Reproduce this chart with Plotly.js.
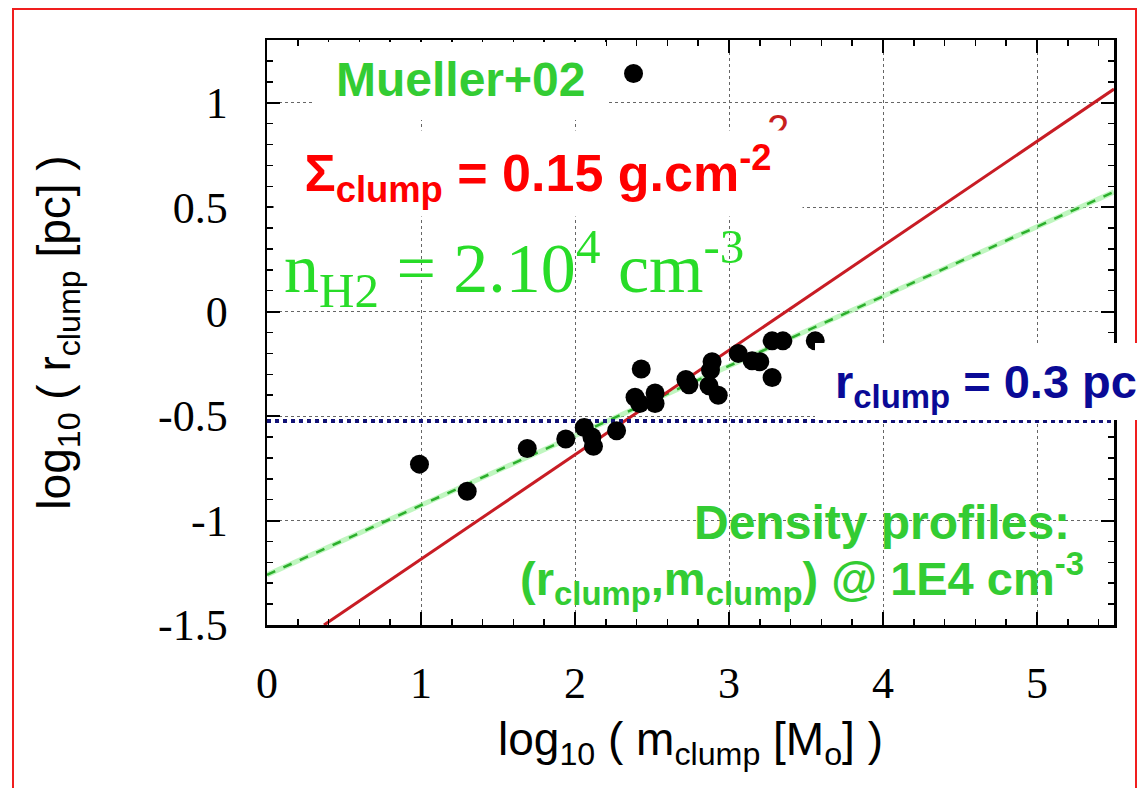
<!DOCTYPE html>
<html>
<head>
<meta charset="utf-8">
<script src="https://cdn.plot.ly/plotly-3.0.1.min.js"></script>
<style>
html,body{margin:0;padding:0;background:#fff;}
#chart{width:1142px;height:788px;}
</style>
</head>
<body>
<div id="chart"></div>
<script>
// Clump data: log10(m_clump [Msun]) vs log10(r_clump [pc])
const logMass = [0.99, 1.30, 1.69, 1.94, 2.06, 2.11, 2.12, 2.27, 2.38, 2.39, 2.42, 2.43, 2.52, 2.52, 2.72, 2.74, 2.87, 2.89, 2.88, 2.93, 3.06, 3.15, 3.20, 3.28, 3.28, 3.35, 3.56];
const logRadius = [-0.73, -0.86, -0.655, -0.61, -0.555, -0.60, -0.645, -0.57, 1.14, -0.41, -0.44, -0.275, -0.39, -0.44, -0.325, -0.35, -0.355, -0.24, -0.28, -0.40, -0.20, -0.235, -0.24, -0.315, -0.14, -0.14, -0.14];

// Constant surface density line (Sigma = 0.15 g cm^-2)
const sigmaLineX = [0.37, 5.5];
const sigmaLineY = [-1.5, 1.065];
// Constant density line (n_H2 = 2e4 cm^-3)
const densLineX = [0, 5.5];
const densLineY = [-1.26, 0.573];
// r_clump = 0.3 pc
const rLineX = [0, 5.5];
const rLineY = [-0.523, -0.523];

const xTickVals = [0, 1, 2, 3, 4, 5];
const xTickText = ['0', '1', '2', '3', '4', '5'];
const yTickVals = [-1.5, -1, -0.5, 0, 0.5, 1];
const yTickText = ['-1.5', '-1', '-0.5', '0', '0.5', '1'];

const traces = [
  {x: densLineX, y: densLineY, mode: 'lines', line: {color: 'rgba(150,240,150,0.6)', width: 5}, hoverinfo: 'skip', showlegend: false},
  {x: densLineX, y: densLineY, mode: 'lines', line: {color: 'rgb(45,175,45)', width: 2.5, dash: 'dash'}, showlegend: false},
  {x: sigmaLineX, y: sigmaLineY, mode: 'lines', line: {color: 'rgb(200,28,36)', width: 3}, showlegend: false},
  {x: rLineX, y: rLineY, mode: 'lines', line: {color: 'rgb(20,20,120)', width: 4, dash: 'dot'}, showlegend: false},
  {x: logMass, y: logRadius, mode: 'markers', marker: {color: '#000', size: 19}, showlegend: false}
];

// pixel -> paper helpers for decoration boxes
const L = 267, R = 1114, T = 40, B = 625;
const px = v => (v - L) / (R - L);
const py = v => (B - v) / (B - T);

const green = 'rgb(51,204,51)';
const sans = 'Liberation Sans, Arial, sans-serif';
const serif = 'Liberation Serif, Times New Roman, serif';
const layout = {
  width: 1142, height: 788,
  margin: {l: L, r: 1142 - R, t: T, b: 788 - B},
  paper_bgcolor: '#fff', plot_bgcolor: '#fff',
  font: {family: serif, color: '#000'},
  xaxis: {
    range: [0, 5.5], tickvals: xTickVals, ticktext: xTickText,
    ticks: 'inside', ticklen: 13, tickwidth: 2, tickcolor: '#000',
    minor: {dtick: 0.2, tick0: 0, ticks: 'inside', ticklen: 6, tickwidth: 1.5, tickcolor: '#000', showgrid: false},
    showline: true, linecolor: '#000', linewidth: 2.5, mirror: 'ticks',
    showgrid: true, gridcolor: '#666', griddash: 'dot', gridwidth: 1,
    zeroline: false, ticklabelstandoff: 18,
    tickfont: {family: serif, size: 44, color: '#000'},
    title: {text: 'log<sub>10</sub> ( m<sub>clump</sub> [M<sub>o</sub>] )', standoff: 16,
            font: {family: sans, size: 46, color: '#000'}}
  },
  yaxis: {
    range: [-1.5, 1.3], tickvals: yTickVals, ticktext: yTickText,
    ticks: 'inside', ticklen: 13, tickwidth: 2, tickcolor: '#000',
    minor: {dtick: 0.1, tick0: 0, ticks: 'inside', ticklen: 6, tickwidth: 1.5, tickcolor: '#000', showgrid: false},
    showline: true, linecolor: '#000', linewidth: 2.5, mirror: 'ticks',
    showgrid: true, gridcolor: '#666', griddash: 'dot', gridwidth: 1,
    zeroline: false, ticklabelstandoff: 28,
    tickfont: {family: serif, size: 44, color: '#000'},
    title: {text: 'log<sub>10</sub> ( r<sub>clump</sub> [pc] )', standoff: 73,
            font: {family: sans, size: 46, color: '#000'}}
  },
  shapes: [
    {type: 'rect', xref: 'paper', yref: 'paper', x0: px(13), x1: px(1136), y0: py(800), y1: py(9),
     line: {color: 'rgb(240,30,30)', width: 2}, fillcolor: 'rgba(0,0,0,0)', layer: 'above'},
    {type: 'rect', xref: 'paper', yref: 'paper', x0: px(315), x1: px(606), y0: py(120), y1: py(42),
     line: {width: 0}, fillcolor: '#fff', layer: 'above'},
    {type: 'rect', xref: 'paper', yref: 'paper', x0: px(815), x1: px(1142), y0: py(420), y1: py(343),
     line: {width: 0}, fillcolor: '#fff', layer: 'above'}
  ],
  annotations: [
    {xref: 'paper', yref: 'paper', x: px(778), y: py(129), xanchor: 'center', yanchor: 'middle', showarrow: false,
     text: '2', font: {family: sans, size: 40, color: 'rgb(200,30,30)'}},
    {xref: 'paper', yref: 'paper', x: px(273), y: py(130), xanchor: 'left', yanchor: 'top', showarrow: false,
     width: 528, height: 85, align: 'center', valign: 'middle', borderpad: 0,
     text: '<b>Σ<sub>clump</sub> = 0.15 g.cm<sup>-2</sup></b>', bgcolor: '#fff',
     font: {family: sans, size: 52, color: '#ff0000'}},
    {xref: 'paper', yref: 'paper', x: px(460), y: py(80), xanchor: 'center', yanchor: 'middle', showarrow: false,
     text: '<b>Mueller+02</b>',
     font: {family: sans, size: 48, color: green}},
    {xref: 'paper', yref: 'paper', x: px(282), y: py(268), xanchor: 'left', yanchor: 'middle', showarrow: false,
     text: 'n<sub>H2</sub> = 2.10<sup>4</sup> cm<sup>-3</sup>',
     font: {family: serif, size: 70, color: 'rgb(40,220,40)'}},
    {xref: 'paper', yref: 'paper', x: px(833), y: py(385), xanchor: 'left', yanchor: 'middle', showarrow: false,
     text: '<b>r<sub>clump</sub> = 0.3 pc</b>',
     font: {family: sans, size: 47, color: 'rgb(10,10,150)'}},
    {xref: 'paper', yref: 'paper', x: px(1072), y: py(522), xanchor: 'right', yanchor: 'middle', showarrow: false,
     text: '<b>Density profiles:</b>',
     font: {family: sans, size: 48, color: green}},
    {xref: 'paper', yref: 'paper', x: px(1086), y: py(578), xanchor: 'right', yanchor: 'middle', showarrow: false,
     text: '<b>(r<sub>clump</sub>,m<sub>clump</sub>) @ 1E4 cm<sup>-3</sup></b>',
     font: {family: sans, size: 47, color: green}}
  ]
};

Plotly.newPlot('chart', traces, layout, {staticPlot: true, displayModeBar: false});
</script>
</body>
</html>
